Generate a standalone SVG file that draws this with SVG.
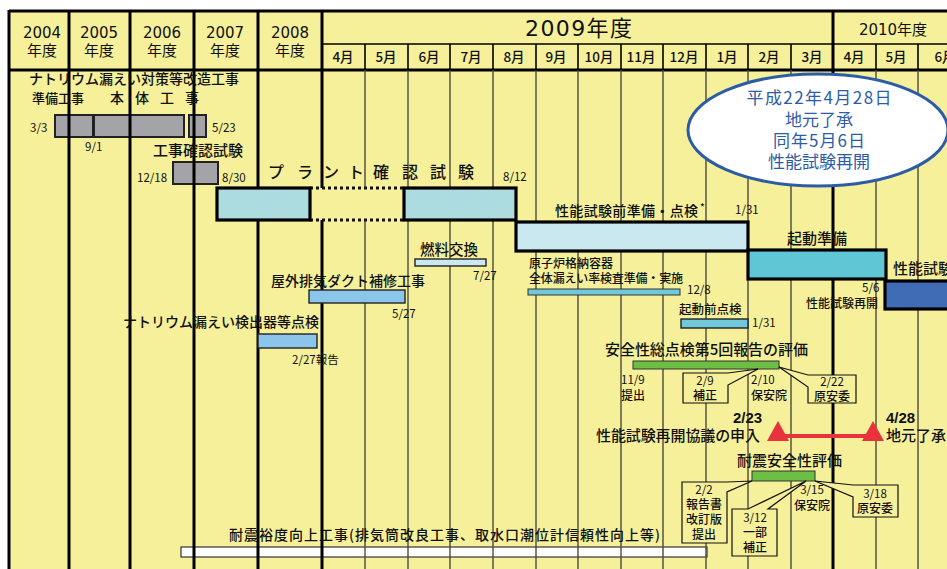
<svg xmlns="http://www.w3.org/2000/svg" width="947" height="569" viewBox="0 0 947 569">
<defs>
<style>
text{font-family:"Noto Sans CJK JP","Noto Sans",sans-serif;fill:#111;font-weight:500}
.yr{font-family:"DejaVu Sans","Noto Sans CJK JP",sans-serif;font-size:15px;text-anchor:middle;font-weight:normal}
.mo{font-size:13.5px;text-anchor:middle}
.lbl{font-size:14px}
.sm{font-size:12px}
.dt{font-size:11.5px;font-weight:normal}
.bold{font-family:"Liberation Sans",Arial,sans-serif;font-weight:bold;font-size:15px}
.ctr{text-anchor:middle}
.yl{stroke:#000;stroke-width:3}
.ml{stroke:#4a4a3a;stroke-width:1.4}
.mh{stroke:#000;stroke-width:1.6}
.gray{fill:#A3A3A8;stroke:#222;stroke-width:2}
.thick{stroke:#000;stroke-width:3.2}
.thin{stroke:#222;stroke-width:1.4}
.call{fill:#F6F09A;stroke:#111;stroke-width:1.2}
.blue{fill:#2D5CA6;font-size:17px;text-anchor:middle;font-weight:normal}
</style>
</defs>
<rect width="947" height="569" fill="#fff"/>
<rect x="9" y="11" width="940" height="560" fill="#F6F09A"/>

<g id="kaizou-bars">
<rect class="gray" x="55" y="115" width="38" height="22"/>
<rect class="gray" x="94" y="115" width="90" height="22"/>
<rect class="gray" x="189" y="115" width="17" height="22"/>
</g>
<g id="kouji-kakunin-bar">
<rect class="gray" x="173" y="162" width="45" height="22"/>
</g>
<g id="taishin-yudo-bar">
<rect x="181" y="547" width="526" height="10" fill="#fff" stroke="#333" stroke-width="1.2"/>
</g>

<g id="grid">
<line class="yl" x1="9" y1="11" x2="947" y2="11"/>
<line class="yl" x1="9" y1="70" x2="947" y2="70"/>
<line class="mh" x1="322" y1="44" x2="947" y2="44"/>
<line class="yl" x1="9" y1="10" x2="9" y2="569"/>
<line class="yl" x1="69" y1="11" x2="69" y2="569"/>
<line class="yl" x1="130" y1="11" x2="130" y2="569"/>
<line class="yl" x1="194" y1="11" x2="194" y2="569"/>
<line class="yl" x1="258" y1="11" x2="258" y2="569"/>
<line class="yl" x1="322" y1="11" x2="322" y2="569"/>
<line class="yl" x1="833" y1="11" x2="833" y2="569"/>
<g class="mh">
<line x1="365" y1="44" x2="365" y2="70"/><line x1="408" y1="44" x2="408" y2="70"/>
<line x1="450" y1="44" x2="450" y2="70"/><line x1="493" y1="44" x2="493" y2="70"/>
<line x1="536" y1="44" x2="536" y2="70"/><line x1="578" y1="44" x2="578" y2="70"/>
<line x1="621" y1="44" x2="621" y2="70"/><line x1="663" y1="44" x2="663" y2="70"/>
<line x1="706" y1="44" x2="706" y2="70"/><line x1="748" y1="44" x2="748" y2="70"/>
<line x1="791" y1="44" x2="791" y2="70"/><line x1="876" y1="44" x2="876" y2="70"/>
<line x1="918" y1="44" x2="918" y2="70"/>
</g>
<g class="ml">
<line x1="365" y1="70" x2="365" y2="569"/><line x1="408" y1="70" x2="408" y2="569"/>
<line x1="450" y1="70" x2="450" y2="569"/><line x1="493" y1="70" x2="493" y2="569"/>
<line x1="536" y1="70" x2="536" y2="569"/><line x1="578" y1="70" x2="578" y2="569"/>
<line x1="621" y1="70" x2="621" y2="569"/><line x1="663" y1="70" x2="663" y2="569"/>
<line x1="706" y1="70" x2="706" y2="569"/><line x1="748" y1="70" x2="748" y2="569"/>
<line x1="791" y1="70" x2="791" y2="569"/><line x1="876" y1="70" x2="876" y2="569"/>
<line x1="918" y1="70" x2="918" y2="569"/>
</g>
</g>

<g id="header">
<text class="yr" x="42" y="38">2004</text><text class="yr" x="42" y="56">年度</text>
<text class="yr" x="99" y="38">2005</text><text class="yr" x="99" y="56">年度</text>
<text class="yr" x="162" y="38">2006</text><text class="yr" x="162" y="56">年度</text>
<text class="yr" x="225" y="38">2007</text><text class="yr" x="225" y="56">年度</text>
<text class="yr" x="290" y="38">2008</text><text class="yr" x="290" y="56">年度</text>
<text class="yr" x="525" y="36" style="font-size:22px;text-anchor:start" textLength="107">2009年度</text>
<text class="yr" x="893" y="35">2010年度</text>
<text class="mo" x="343" y="62">4月</text><text class="mo" x="386" y="62">5月</text>
<text class="mo" x="429" y="62">6月</text><text class="mo" x="471" y="62">7月</text>
<text class="mo" x="514" y="62">8月</text><text class="mo" x="556" y="62">9月</text>
<text class="mo" x="599" y="62">10月</text><text class="mo" x="641" y="62">11月</text>
<text class="mo" x="684" y="62">12月</text><text class="mo" x="727" y="62">1月</text>
<text class="mo" x="769" y="62">2月</text><text class="mo" x="812" y="62">3月</text>
<text class="mo" x="854" y="62">4月</text><text class="mo" x="896" y="62">5月</text>
<text class="mo" x="945" y="62">6月</text>
</g>

<g id="kaizou">
<text class="lbl" x="29" y="84">ナトリウム漏えい対策等改造工事</text>
<text x="32" y="103" font-size="13">準備工事</text>
<text x="110" y="103" font-size="14">本</text><text x="135" y="103" font-size="14">体</text>
<text x="160" y="103" font-size="14">工</text><text x="185" y="103" font-size="14">事</text>
<text class="dt" x="30" y="132">3/3</text>
<text class="dt" x="85" y="151">9/1</text>
<text class="dt" x="212" y="132">5/23</text>
</g>
<g id="kouji-kakunin">
<text x="153" y="156" font-size="15">工事確認試験</text>
<text class="dt" x="137" y="182">12/18</text>
<text class="dt" x="222" y="182">8/30</text>
</g>

<g id="plant">
<rect x="310" y="188" width="94" height="32" fill="#F6F09A"/>
<line x1="310" y1="188" x2="404" y2="188" stroke="#111" stroke-width="3" stroke-dasharray="3 3"/>
<line x1="310" y1="220" x2="404" y2="220" stroke="#111" stroke-width="3" stroke-dasharray="3 3"/>
<rect class="thick" x="217" y="188" width="93" height="32" fill="#ACDCDF"/>
<rect class="thick" x="404" y="188" width="112" height="32" fill="#ACDCDF"/>
<g font-size="16">
<text x="268" y="178">プ</text><text x="297" y="178">ラ</text><text x="323" y="178">ン</text><text x="348" y="178">ト</text>
<text x="373" y="178">確</text><text x="402" y="178">認</text><text x="430" y="178">試</text><text x="458" y="178">験</text>
</g>
<text class="dt" x="503" y="181">8/12</text>
</g>

<g id="seino-junbi">
<rect class="thick" x="516" y="222" width="232" height="29" fill="#C9E8F0"/>
<text class="lbl" x="555" y="216" textLength="143">性能試験前準備・点検</text>
<text x="700" y="211" font-size="10">*</text>
<text class="dt" x="735" y="214">1/31</text>
</g>

<g id="kidou-junbi">
<rect class="thick" x="748" y="250" width="138" height="29" fill="#5FC6D5"/>
<text x="787" y="244" font-size="15">起動準備</text>
</g>

<g id="seino-shiken">
<rect class="thick" x="885" y="281" width="70" height="28" fill="#3F6CB4"/>
<text x="893" y="274" font-size="15">性能試験</text>
<text class="dt" x="862" y="292">5/6</text>
<text class="sm" x="806" y="308">性能試験再開</text>
</g>

<g id="nenryou">
<rect class="thin" x="415" y="259" width="71" height="7" fill="#C9E8F0"/>
<text x="420" y="255" font-size="14.5">燃料交換</text>
<text class="dt" x="473" y="280">7/27</text>
</g>

<g id="genshiro">
<rect x="528" y="289" width="152" height="6" fill="#70C9DA" stroke="#333" stroke-width="1"/>
<text class="sm" x="529" y="268">原子炉格納容器</text>
<text class="sm" x="529" y="283" textLength="154">全体漏えい率検査準備・実施</text>
<text class="dt" x="687" y="294">12/8</text>
</g>

<g id="okugai">
<rect class="thin" x="309" y="290" width="96" height="13" fill="#8BC5EA"/>
<text class="lbl" x="271" y="286">屋外排気ダクト補修工事</text>
<text class="dt" x="392" y="318">5/27</text>
</g>

<g id="kenshutsu">
<rect class="thin" x="258" y="334" width="59" height="14" fill="#8BC5EA"/>
<text class="lbl" x="123" y="327">ナトリウム漏えい検出器等点検</text>
<text class="dt" x="292" y="364">2/27報告</text>
</g>

<g id="kidou-mae">
<rect class="thin" x="681" y="319" width="67" height="9" fill="#70C9DA"/>
<text x="679" y="314" font-size="12.5">起動前点検</text>
<text class="dt" x="752" y="327">1/31</text>
</g>

<g id="sougou">
<rect x="633" y="361" width="146" height="8" fill="#6CBE44" stroke="#333" stroke-width="1"/>
<text x="605" y="355" font-size="15" textLength="203">安全性総点検第5回報告の評価</text>
<text class="dt" x="621" y="384">11/9</text>
<text class="sm" x="621" y="400">提出</text>
<text class="dt" x="751" y="384">2/10</text>
<text class="sm" x="751" y="400">保安院</text>
</g>
<g id="call-29">
<path class="call" d="M683,373 L728,373 L758,369 L728,385 L728,403 L683,403 Z"/>
<text class="dt ctr" x="705" y="385">2/9</text>
<text class="sm ctr" x="705" y="400">補正</text>
</g>
<g id="call-222">
<path class="call" d="M808,387 L808,403 L856,403 L856,375 L808,375 L779,367 Z"/>
<text class="dt ctr" x="832" y="386">2/22</text>
<text class="sm ctr" x="832" y="401">原安委</text>
</g>

<g id="kyougi">
<text x="596" y="441" font-size="15" textLength="164">性能試験再開協議の申入</text>
<text class="bold" x="733" y="423">2/23</text>
<text class="bold" x="886" y="423">4/28</text>
<text x="886" y="441" font-size="15">地元了承</text>
</g>
<g id="connectors">
<line x1="778" y1="436" x2="873" y2="436" stroke="#E8323C" stroke-width="4"/>
<polygon points="778,421 767,441 789,441" fill="#E8323C"/>
<polygon points="873,421 862,441 884,441" fill="#E8323C"/>
</g>

<g id="taishin">
<rect x="752" y="471" width="63" height="10" fill="#6CBE44" stroke="#333" stroke-width="1"/>
<text x="737" y="466" font-size="15">耐震安全性評価</text>
<text class="dt ctr" x="812" y="494">3/15</text>
<text class="sm ctr" x="812" y="510">保安院</text>
</g>
<g id="call-22">
<path class="call" d="M682,482 L727,482 L752,481 L727,492 L727,543 L682,543 Z"/>
<text class="dt ctr" x="704" y="494">2/2</text>
<text class="sm ctr" x="704" y="509">報告書</text>
<text class="sm ctr" x="704" y="524">改訂版</text>
<text class="sm ctr" x="704" y="539">提出</text>
</g>
<g id="call-312">
<path class="call" d="M732,509 L748,509 L806,481 L768,509 L777,509 L777,556 L732,556 Z"/>
<text class="dt ctr" x="755" y="522">3/12</text>
<text class="sm ctr" x="755" y="537">一部</text>
<text class="sm ctr" x="755" y="552">補正</text>
</g>
<g id="call-318">
<path class="call" d="M853,497 L853,517 L898,517 L898,485 L853,485 L815,481 Z"/>
<text class="dt ctr" x="875" y="498">3/18</text>
<text class="sm ctr" x="875" y="513">原安委</text>
</g>

<g id="taishin-yudo">
<text class="lbl" x="229" y="540" textLength="431">耐震裕度向上工事(排気筒改良工事、取水口潮位計信頼性向上等)</text>
</g>

<g id="balloon">
<ellipse cx="818" cy="130" rx="130" ry="56" fill="#fff" stroke="#2D5CA6" stroke-width="3"/>
<text class="blue" x="819" y="104" textLength="145">平成22年4月28日</text>
<text class="blue" x="819" y="126">地元了承</text>
<text class="blue" x="819" y="147" textLength="92">同年5月6日</text>
<text class="blue" x="819" y="168">性能試験再開</text>
</g>
</svg>
